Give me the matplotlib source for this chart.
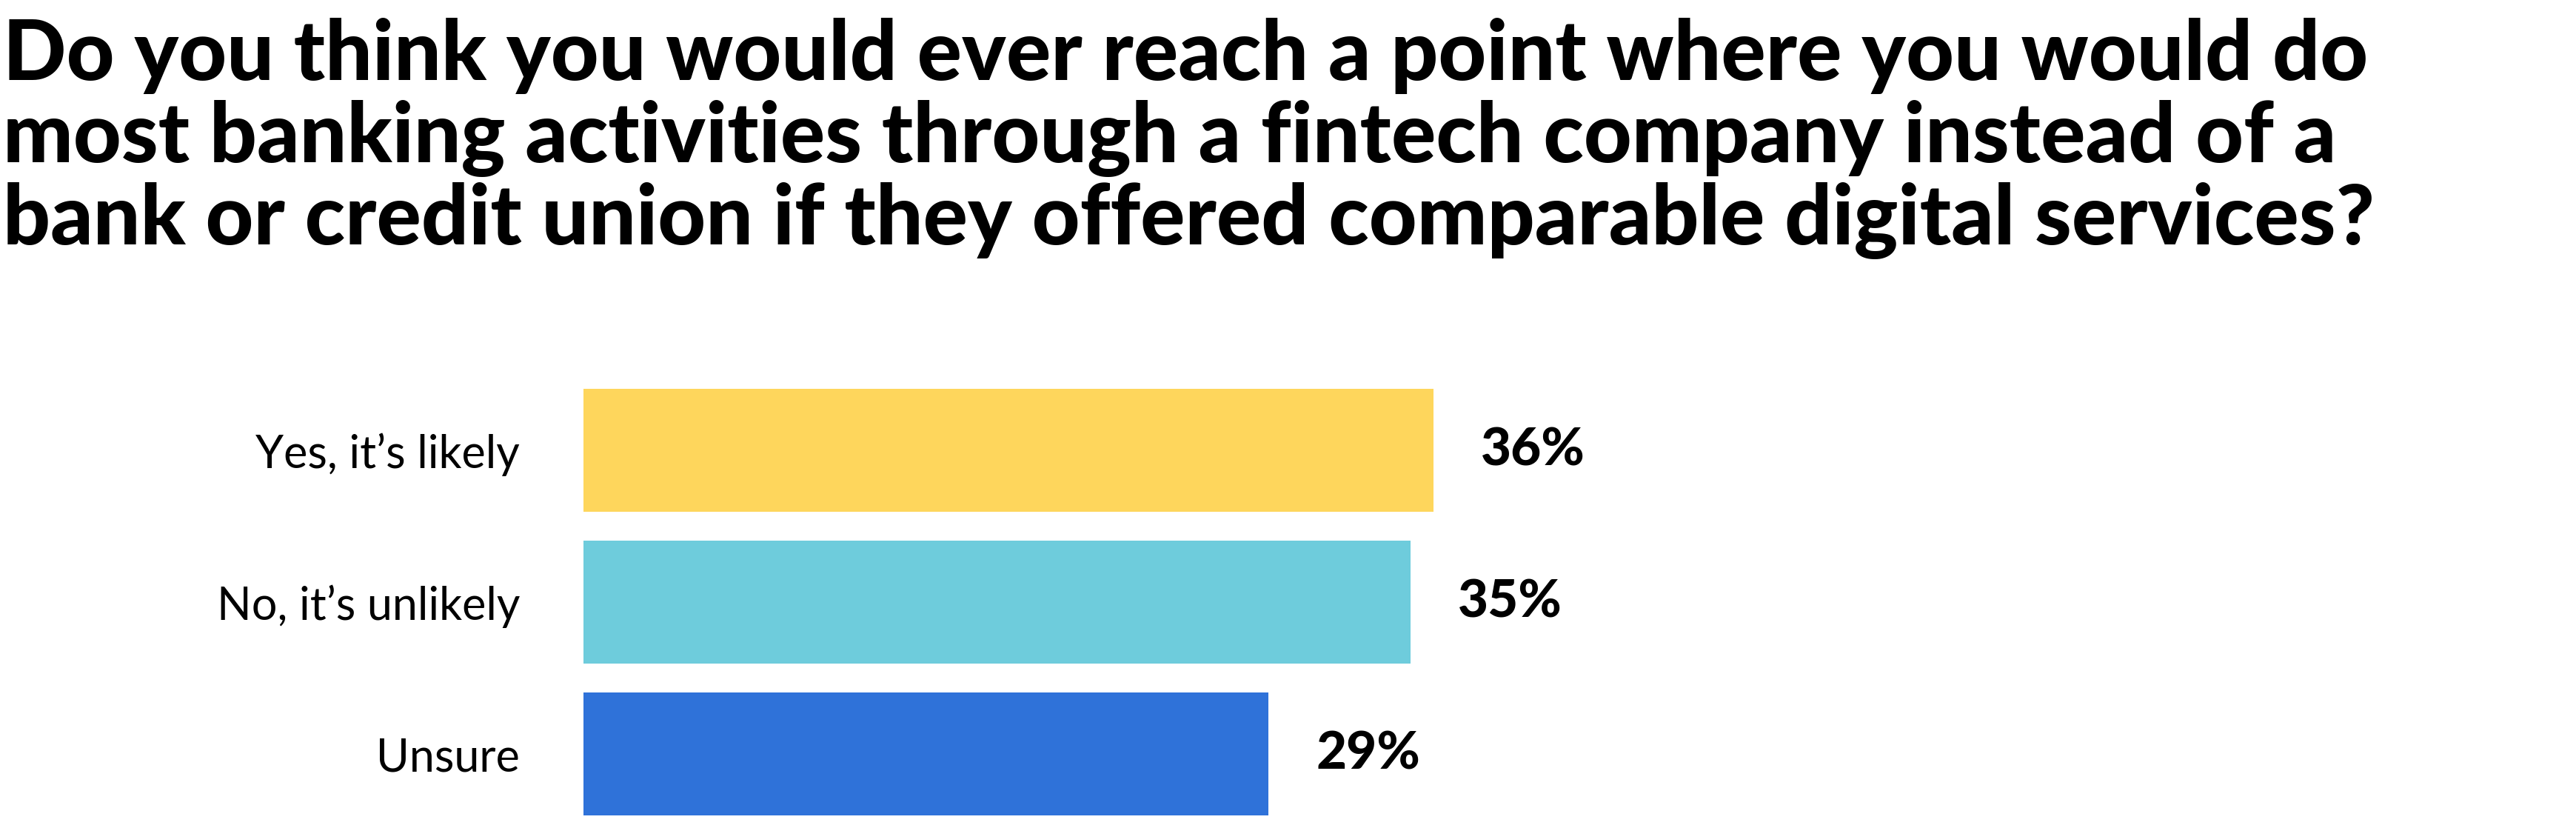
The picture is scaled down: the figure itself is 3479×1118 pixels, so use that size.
import matplotlib.pyplot as plt

title_lines = [
    "Do you think you would ever reach a point where you would do",
    "most banking activities through a fintech company instead of a",
    "bank or credit union if they offered comparable digital services?",
]
categories = ["Yes, it\u2019s likely", "No, it\u2019s unlikely", "Unsure"]
values = [36, 35, 29]
colors = ["#FED65C", "#6ECCDC", "#2F72D9"]

W, H = 3479, 1118
fig = plt.figure(figsize=(W / 100, H / 100), dpi=100)

# title, one line at a time so the line pitch can be set
for i, line in enumerate(title_lines):
    fig.text(4 / W, 1 - (108 + i * 111) / H, line, family="Lato", fontweight="black",
             fontsize=81, va="baseline", ha="left", color="black")

# axes: bars start at x=788 px, about 31.9 px per percent
left = 788 / W
px_per_unit = 31.9
ax = fig.add_axes([left, (H - 1120.5) / H, 1 - left, 615 / H])
ax.set_xlim(0, (W - 788) / px_per_unit)
ax.set_ylim(2.5, -0.5)

y = range(len(categories))
ax.barh(y, values, height=0.81, color=colors)

for yi, v in zip(y, values):
    ax.annotate(f"{v}%", (v, yi), xytext=(64, 0), textcoords="offset pixels",
                ha="left", va="center", family="Lato", fontweight="black",
                fontsize=51, color="black")

ax.set_yticks(list(y))
ax.set_yticklabels(categories, family="Lato", fontsize=44, color="black")
ax.tick_params(axis="y", length=0, pad=62)
ax.set_xticks([])
for s in ax.spines.values():
    s.set_visible(False)

fig.savefig("out.png", dpi=100, facecolor="white")
